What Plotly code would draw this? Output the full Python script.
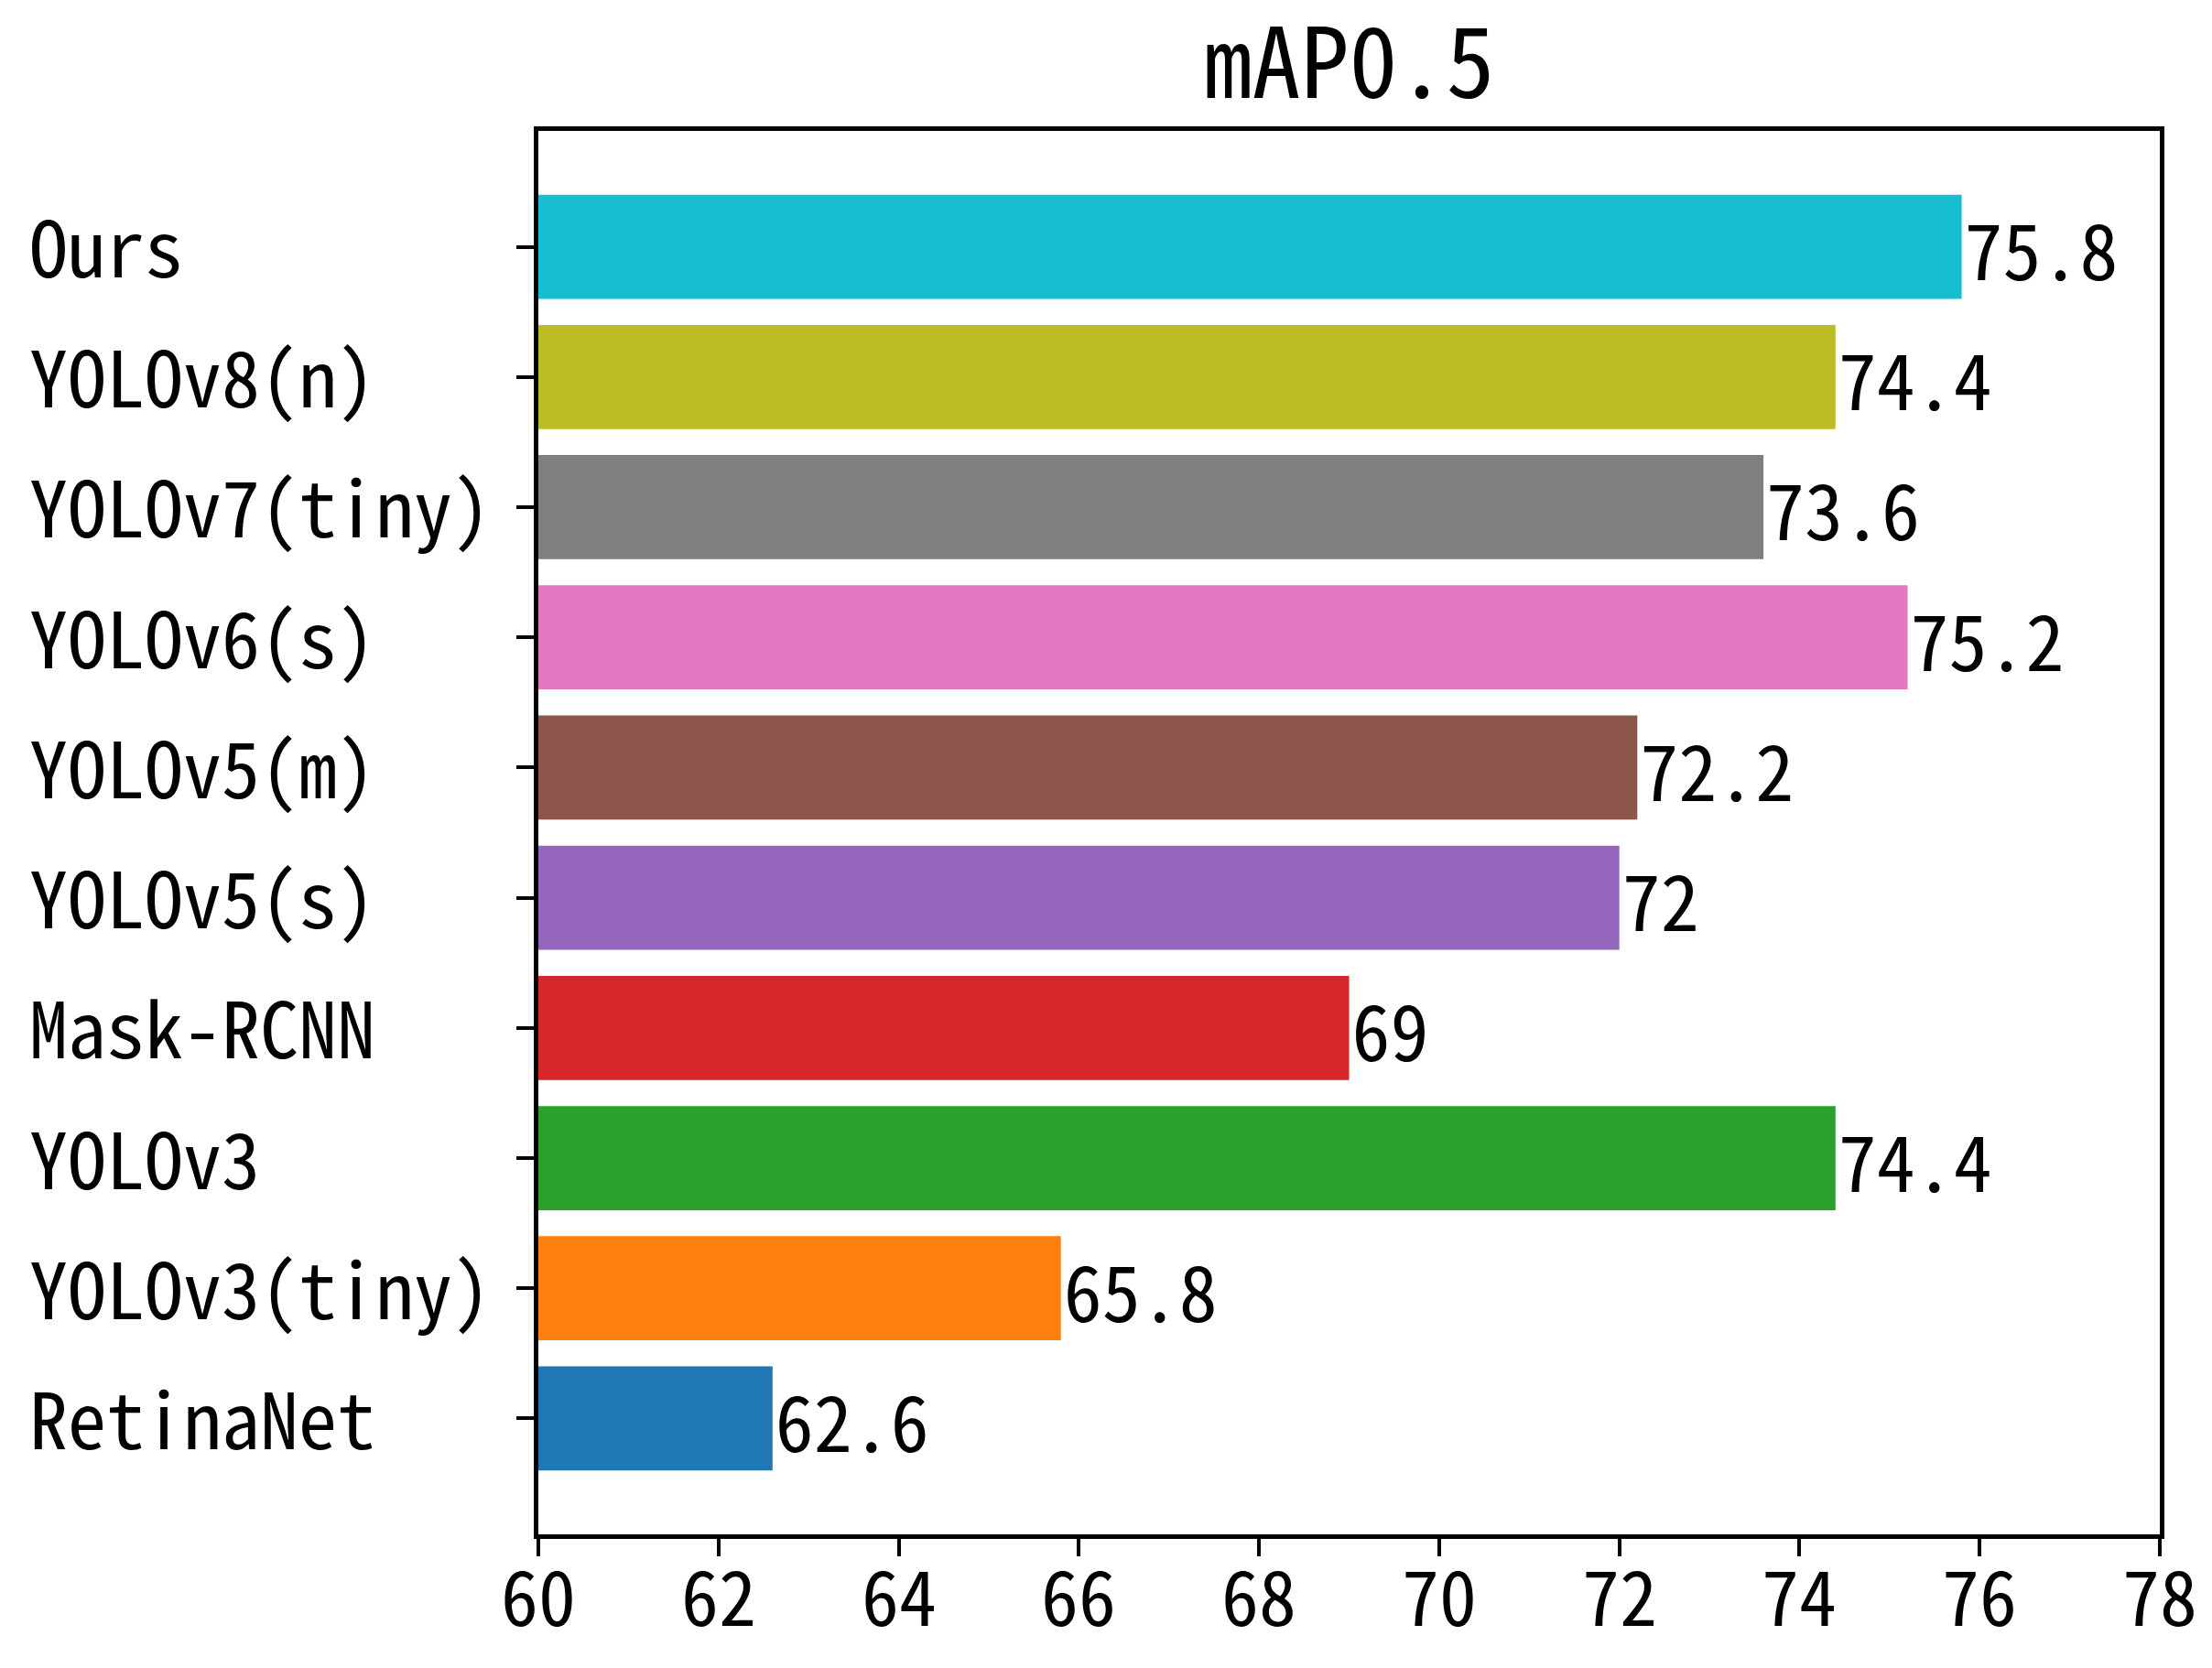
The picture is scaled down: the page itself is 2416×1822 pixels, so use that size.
import plotly.graph_objects as go

categories = ["RetinaNet", "YOLOv3(tiny)", "YOLOv3", "Mask-RCNN", "YOLOv5(s)",
              "YOLOv5(m)", "YOLOv6(s)", "YOLOv7(tiny)", "YOLOv8(n)", "Ours"]
values = [62.6, 65.8, 74.4, 69, 72, 72.2, 75.2, 73.6, 74.4, 75.8]
value_labels = ["62.6", "65.8", "74.4", "69", "72", "72.2", "75.2", "73.6", "74.4", "75.8"]
colors = ["#1f77b4", "#ff7f0e", "#2ca02c", "#d62728", "#9467bd",
          "#8c564b", "#e377c2", "#7f7f7f", "#bcbd22", "#17becf"]
x_ticks = [60, 62, 64, 66, 68, 70, 72, 74, 76, 78]

FONT = "Noto Sans Mono CJK SC, Noto Sans CJK SC, DejaVu Sans Mono, monospace"
OFF = 8  # default page body margin
W, H = 2416 - OFF, 1822 - OFF
L, R, T, B = 588 - OFF, 57, 143 - OFF, 146
PW = W - L - R

fig = go.Figure()
fig.add_trace(go.Bar(
    y=list(range(len(categories))), x=[v - 60 for v in values], base=60,
    orientation="h", width=0.8,
    marker=dict(color=colors, line=dict(width=0)),
    text=value_labels, textposition="outside", constraintext="none",
    textfont=dict(family=FONT, size=84, color="black"),
    cliponaxis=False, showlegend=False,
))

for i, c in enumerate(categories):
    fig.add_annotation(x=-(588 - 34) / PW, xref="paper", y=i, yref="y",
                       text=c, showarrow=False, xanchor="left", yanchor="middle",
                       xshift=-4, yshift=3,
                       font=dict(family=FONT, size=84, color="black"))

for t in x_ticks:
    fig.add_annotation(x=t, xref="x", y=0, yref="paper", text=str(t),
                       showarrow=False, xanchor="center", yanchor="middle",
                       yshift=-64,
                       font=dict(family=FONT, size=82, color="black"))

fig.update_layout(
    width=W, height=H,
    margin=dict(l=L, r=R, t=T, b=B),
    plot_bgcolor="white", paper_bgcolor="white",
    title=dict(text="mAP0.5", x=(L + PW / 2) / W, xanchor="center",
               y=1 - (70 - OFF) / H, yanchor="middle",
               font=dict(family=FONT, size=106, color="black")),
    font=dict(family=FONT, color="black"),
)
fig.update_xaxes(range=[60, 78], tickvals=x_ticks, showticklabels=False,
                 showgrid=False, zeroline=False, showline=True, linecolor="black",
                 linewidth=5, mirror=True, ticks="outside", ticklen=19, tickwidth=4,
                 tickcolor="black")
fig.update_yaxes(range=[-0.89, 9.89], tickvals=list(range(len(categories))),
                 showticklabels=False,
                 showgrid=False, zeroline=False, showline=True, linecolor="black",
                 linewidth=5, mirror=True, ticks="outside", ticklen=19, tickwidth=4,
                 tickcolor="black")

fig.write_html("out.html")
